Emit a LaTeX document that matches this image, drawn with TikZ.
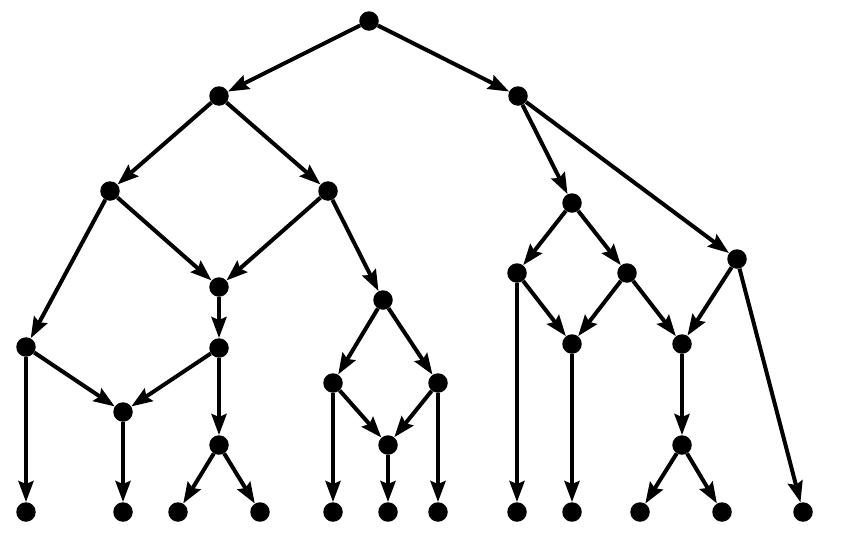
\documentclass[tikz,border=0pt]{standalone}
\usetikzlibrary{arrows.meta}
\begin{document}
\begin{tikzpicture}[x=1pt,y=-1pt,
  dot/.style={circle,fill=black,inner sep=0pt,minimum size=19.5pt},
  edge/.style={line width=4pt,-{Stealth[length=21pt,width=15pt,inset=3pt]}}]
\useasboundingbox (0,0) rectangle (846,533);
\node[dot] (r) at (369,21) {};
\node[dot] (a) at (219,96) {};
\node[dot] (b) at (518,96) {};
\node[dot] (a1) at (110,191) {};
\node[dot] (a2) at (328,191) {};
\node[dot] (c) at (219,287) {};
\node[dot] (d) at (26,347) {};
\node[dot] (e) at (219,348) {};
\node[dot] (f) at (123,412) {};
\node[dot] (g) at (219,445) {};
\node[dot] (h) at (383,300) {};
\node[dot] (h1) at (333,383) {};
\node[dot] (h2) at (438,383) {};
\node[dot] (i) at (388,445) {};
\node[dot] (b1) at (572,203) {};
\node[dot] (b2) at (737,259) {};
\node[dot] (j1) at (517,273) {};
\node[dot] (j2) at (627,273) {};
\node[dot] (k1) at (572,344) {};
\node[dot] (k2) at (682,344) {};
\node[dot] (l) at (682,445) {};
\node[dot] (z1) at (26,512) {};
\node[dot] (z2) at (123,512) {};
\node[dot] (z3) at (178,512) {};
\node[dot] (z4) at (260,512) {};
\node[dot] (z5) at (333,512) {};
\node[dot] (z6) at (388,512) {};
\node[dot] (z7) at (438,512) {};
\node[dot] (z8) at (517,512) {};
\node[dot] (z9) at (572,512) {};
\node[dot] (z10) at (640,512) {};
\node[dot] (z11) at (722,512) {};
\node[dot] (z12) at (803,512) {};
\foreach \s/\t in {r/a,r/b,a/a1,a/a2,a1/c,a2/c,a1/d,c/e,d/f,e/f,e/g,d/z1,f/z2,g/z3,g/z4,
  a2/h,h/h1,h/h2,h1/i,h2/i,h1/z5,i/z6,h2/z7,
  b/b1,b/b2,b1/j1,b1/j2,j1/k1,j2/k1,j2/k2,b2/k2,k2/l,j1/z8,k1/z9,l/z10,l/z11,b2/z12}
  \draw[edge] (\s) -- (\t);
\end{tikzpicture}
\end{document}
